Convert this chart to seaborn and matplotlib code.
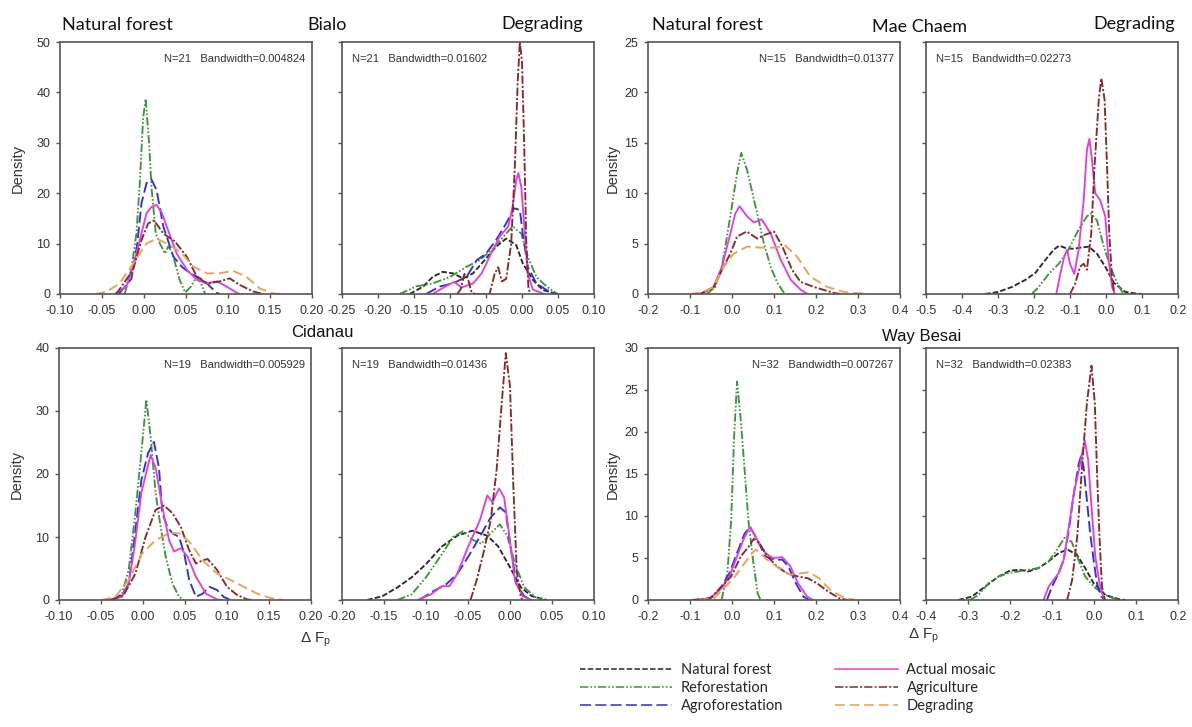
import matplotlib
matplotlib.use("Agg")
import numpy as np
import pandas as pd
import matplotlib.pyplot as plt
from matplotlib.lines import Line2D
from matplotlib.ticker import FormatStrFormatter
import seaborn as sns

# scenario styling
SCENARIOS = ["Natural forest", "Reforestation", "Agroforestation",
             "Actual mosaic", "Agriculture", "Degrading"]
COLORS = {
    "Natural forest": "#2a2a2a",
    "Reforestation": "#3c963c",
    "Agroforestation": "#3030d8",
    "Actual mosaic": "#e040e0",
    "Agriculture": "#8a2828",
    "Degrading": "#f0a050",
}
DASHES = {
    "Natural forest": (4, 1.6),
    "Reforestation": (6, 1.5, 1.2, 1.5, 1.2, 1.5),
    "Agroforestation": (8, 3),
    "Actual mosaic": "",
    "Agriculture": (6, 1.5, 1.5, 1.5),
    "Degrading": (7, 3.5),
}

# density curves: (delta Fp, density)
bialo_nat = {
    "Reforestation": [(-0.023, 0), (-0.015, 5), (-0.009, 12), (-0.005, 22), (-0.001, 35), (0.002, 38.7),
                      (0.006, 30), (0.009, 21), (0.014, 12), (0.019, 10), (0.025, 8), (0.029, 9.5),
                      (0.034, 8), (0.042, 3), (0.049, 0.3), (0.056, 1.5), (0.063, 3.5), (0.068, 2), (0.073, 0)],
    "Agroforestation": [(-0.03, 0), (-0.015, 3), (-0.008, 10), (-0.003, 18), (0.003, 22), (0.009, 22.7),
                        (0.015, 20.6), (0.023, 13.4), (0.035, 7.4), (0.045, 5.4), (0.055, 4.1), (0.067, 3.1),
                        (0.075, 2.1), (0.086, 0.3), (0.09, 0)],
    "Actual mosaic": [(-0.035, 0), (-0.021, 1.5), (-0.013, 5.4), (-0.005, 10.7), (0.003, 16), (0.009, 17.3),
                      (0.015, 17.7), (0.021, 16.2), (0.027, 13.4), (0.039, 8), (0.051, 4.8), (0.063, 2.8),
                      (0.075, 2.1), (0.087, 2.5), (0.098, 1.5), (0.11, 0.3), (0.114, 0)],
    "Agriculture": [(-0.033, 0), (-0.013, 4.8), (-0.003, 10.7), (0.005, 14), (0.012, 14.6), (0.023, 12),
                    (0.037, 10.4), (0.051, 7.4), (0.063, 3.4), (0.075, 2.1), (0.09, 2.5), (0.102, 3.1),
                    (0.114, 1.8), (0.13, 0.5), (0.142, 0)],
    "Degrading": [(-0.058, 0), (-0.044, 0.5), (-0.029, 2.1), (-0.013, 6), (0.003, 10), (0.015, 11),
                  (0.027, 10), (0.043, 8.4), (0.059, 5.4), (0.075, 4.1), (0.09, 4.1), (0.106, 4.6),
                  (0.122, 3.4), (0.138, 1.1), (0.154, 0.1), (0.168, 0)],
}
bialo_deg = {
    "Natural forest": [(-0.156, 0), (-0.137, 1.5), (-0.124, 3.4), (-0.11, 4.4), (-0.096, 4.1), (-0.082, 3.1),
                       (-0.068, 4.1), (-0.052, 6.7), (-0.036, 9.4), (-0.022, 11), (-0.008, 9.7), (0.001, 6.1),
                       (0.015, 2.8), (0.029, 0.8), (0.048, 0)],
    "Reforestation": [(-0.17, 0), (-0.147, 1.5), (-0.124, 2.1), (-0.1, 3.4), (-0.077, 5.4), (-0.059, 6.7),
                      (-0.04, 9), (-0.022, 12), (-0.013, 13.4), (-0.001, 12), (0.008, 7.4), (0.02, 3.4),
                      (0.034, 1.5), (0.048, 0.1), (0.052, 0)],
    "Agroforestation": [(-0.133, 0), (-0.114, 1.5), (-0.096, 2.1), (-0.077, 3.4), (-0.063, 6.7), (-0.05, 8),
                        (-0.036, 10.7), (-0.022, 14), (-0.011, 17), (-0.003, 16.7), (0.001, 12), (0.008, 5.4),
                        (0.02, 2.1), (0.034, 0.8), (0.048, 0)],
    "Actual mosaic": [(-0.124, 0), (-0.105, 1.6), (-0.094, 2.4), (-0.084, 1.3), (-0.068, 2.1), (-0.056, 4.1),
                      (-0.043, 8), (-0.031, 11.4), (-0.019, 13.4), (-0.013, 17.4), (-0.008, 22.6), (-0.005, 24),
                      (-0.001, 21.3), (0.004, 12), (0.008, 4), (0.015, 0.9), (0.029, 0.1), (0.031, 0)],
    "Agriculture": [(-0.09, 0), (-0.085, 1), (-0.08, 4), (-0.075, 3), (-0.07, 0.3), (-0.065, 0), (-0.045, 0),
                    (-0.038, 4), (-0.033, 5.3), (-0.028, 2.5), (-0.022, 3), (-0.015, 10), (-0.01, 25),
                    (-0.006, 42), (-0.003, 50), (0.0, 46), (0.003, 30), (0.006, 10), (0.009, 1), (0.012, 0)],
}
mae_nat = {
    "Reforestation": [(-0.06, 0), (-0.04, 0.7), (-0.024, 2.7), (-0.004, 7.7), (0.012, 12), (0.022, 14),
                      (0.036, 12.3), (0.056, 8.7), (0.076, 5), (0.092, 2.7), (0.108, 1.1), (0.124, 0.1), (0.13, 0)],
    "Actual mosaic": [(-0.076, 0), (-0.044, 0.7), (-0.024, 2.7), (-0.004, 6), (0.008, 8), (0.018, 8.7),
                      (0.036, 7.7), (0.052, 7.1), (0.071, 7.4), (0.092, 6), (0.116, 3.4), (0.14, 1.4),
                      (0.164, 0.4), (0.18, 0)],
    "Agriculture": [(-0.076, 0), (-0.044, 0.6), (-0.024, 2.4), (-0.004, 4), (0.012, 5.7), (0.035, 6.2),
                    (0.06, 5.5), (0.08, 5.9), (0.1, 6.2), (0.12, 4.7), (0.143, 2.4), (0.163, 1.2),
                    (0.195, 0.7), (0.219, 0.4), (0.243, 0.1), (0.259, 0)],
    "Degrading": [(-0.1, 0), (-0.068, 0.2), (-0.044, 0.7), (-0.02, 2.7), (0.004, 4), (0.036, 4.7),
                  (0.068, 4.6), (0.1, 4.6), (0.127, 4.8), (0.155, 3.7), (0.187, 1.7), (0.227, 0.7),
                  (0.267, 0.2), (0.307, 0.05), (0.33, 0)],
}
mae_deg = {
    "Natural forest": [(-0.336, 0), (-0.3, 0.2), (-0.261, 0.7), (-0.224, 1.4), (-0.196, 2.1), (-0.168, 3.4),
                       (-0.145, 4.4), (-0.13, 4.8), (-0.108, 4.5), (-0.09, 4.5), (-0.071, 4.6), (-0.048, 4.7),
                       (-0.025, 4), (-0.002, 2.7), (0.022, 1.1), (0.054, 0.2), (0.082, 0.05), (0.1, 0)],
    "Reforestation": [(-0.206, 0), (-0.187, 0.7), (-0.159, 2), (-0.131, 3), (-0.104, 4.4), (-0.076, 6.4),
                      (-0.053, 7.7), (-0.042, 8), (-0.025, 7.3), (-0.006, 4.7), (0.012, 2.7), (0.031, 1.1),
                      (0.045, 0.2), (0.054, 0)],
    "Actual mosaic": [(-0.138, 0), (-0.127, 2), (-0.116, 3.7), (-0.108, 4.4), (-0.1, 3), (-0.088, 2),
                      (-0.076, 4.4), (-0.062, 9.3), (-0.053, 14.3), (-0.046, 15.4), (-0.039, 13.3), (-0.03, 10),
                      (-0.016, 9.3), (-0.002, 7.7), (0.007, 3.4), (0.017, 0.7), (0.024, 0)],
    "Agriculture": [(-0.1, 0), (-0.086, 1), (-0.072, 2.7), (-0.062, 3.0), (-0.053, 2.4), (-0.041, 6),
                    (-0.032, 12.6), (-0.02, 19.3), (-0.013, 21.4), (-0.004, 19.3), (0.003, 12.6), (0.009, 6),
                    (0.017, 1.4), (0.024, 0)],
}
cidanau_nat = {
    "Reforestation": [(-0.035, 0), (-0.025, 1), (-0.017, 4.8), (-0.01, 12.7), (-0.003, 22), (0.004, 31.8),
                      (0.009, 26), (0.015, 17), (0.021, 11.6), (0.027, 6.9), (0.035, 2.6), (0.043, 0.5), (0.049, 0)],
    "Agroforestation": [(-0.038, 0), (-0.025, 0.8), (-0.017, 2.6), (-0.01, 10), (-0.002, 19), (0.006, 23.3),
                        (0.013, 25.1), (0.019, 21), (0.023, 13.8), (0.029, 11.6), (0.035, 10.6), (0.043, 10),
                        (0.049, 7.4), (0.055, 3.2), (0.063, 0.5), (0.071, 1), (0.079, 2.1), (0.088, 1.6),
                        (0.096, 0.5), (0.104, 0)],
    "Actual mosaic": [(-0.042, 0), (-0.025, 0.5), (-0.017, 2.6), (-0.01, 8.5), (-0.002, 17), (0.009, 23),
                      (0.015, 21), (0.023, 14.8), (0.031, 9.5), (0.037, 7.7), (0.045, 8.2), (0.053, 6.9),
                      (0.063, 3.7), (0.075, 1), (0.088, 0.1), (0.094, 0)],
    "Agriculture": [(-0.038, 0), (-0.023, 0.8), (-0.009, 4.2), (0.003, 10), (0.015, 14.3), (0.025, 15),
                    (0.035, 13.8), (0.045, 11.6), (0.055, 7.9), (0.063, 5.8), (0.071, 6.3), (0.077, 6.5),
                    (0.088, 4.8), (0.1, 2.1), (0.112, 0.8), (0.124, 0.1), (0.13, 0)],
    "Degrading": [(-0.05, 0), (-0.033, 0.5), (-0.017, 3.2), (-0.001, 7.4), (0.015, 9.5), (0.031, 10.6),
                  (0.043, 10.6), (0.055, 9.3), (0.071, 6.3), (0.088, 4.2), (0.104, 3.2), (0.12, 2.1),
                  (0.136, 1), (0.152, 0.3), (0.168, 0)],
}
cidanau_deg = {
    "Natural forest": [(-0.17, 0), (-0.152, 0.6), (-0.134, 2), (-0.117, 3.6), (-0.1, 5.7), (-0.081, 8.5),
                       (-0.063, 10.2), (-0.045, 11), (-0.027, 10.2), (-0.014, 8.5), (0.0, 5.2), (0.013, 2),
                       (0.026, 0.6), (0.044, 0)],
    "Reforestation": [(-0.134, 0), (-0.117, 0.9), (-0.1, 3.6), (-0.081, 7.3), (-0.068, 10), (-0.056, 10.9),
                      (-0.045, 9.6), (-0.034, 8.9), (-0.023, 10.6), (-0.012, 12), (-0.003, 10.1), (0.006, 5.7),
                      (0.017, 2), (0.031, 0.4), (0.04, 0)],
    "Agroforestation": [(-0.108, 0), (-0.094, 1.2), (-0.076, 2.5), (-0.063, 4.1), (-0.05, 6.8), (-0.036, 10),
                        (-0.023, 13.1), (-0.012, 14.7), (-0.005, 13.9), (0.002, 7.2), (0.008, 2.5), (0.017, 0.6),
                        (0.026, 0)],
    "Actual mosaic": [(-0.11, 0), (-0.094, 0.9), (-0.081, 2.2), (-0.072, 2.2), (-0.063, 4.1), (-0.05, 8.4),
                      (-0.036, 12.6), (-0.027, 16.6), (-0.021, 15.5), (-0.013, 17.7), (-0.007, 16.3), (0.0, 9.4),
                      (0.006, 3), (0.015, 0.6), (0.026, 0)],
    "Agriculture": [(-0.047, 0), (-0.04, 3), (-0.031, 7.8), (-0.023, 12.6), (-0.016, 20.6), (-0.01, 31),
                    (-0.005, 39.2), (0.0, 33.9), (0.004, 18), (0.008, 4.6), (0.013, 0.4), (0.015, 0)],
}
way_nat = {
    "Reforestation": [(-0.025, 0), (-0.011, 3.2), (-0.002, 9.5), (0.005, 19.4), (0.012, 26), (0.021, 21.4),
                      (0.03, 15.5), (0.039, 9.5), (0.05, 4.8), (0.061, 0.8), (0.068, 0)],
    "Agroforestation": [(-0.07, 0), (-0.043, 0.4), (-0.025, 1.6), (-0.006, 3.2), (0.012, 5.6), (0.03, 7.9),
                        (0.043, 8.7), (0.061, 7.1), (0.079, 5.2), (0.102, 4.8), (0.12, 4.8), (0.134, 4),
                        (0.152, 2), (0.17, 0.4), (0.184, 0)],
    "Actual mosaic": [(-0.088, 0), (-0.052, 0.2), (-0.025, 1.4), (-0.006, 2.8), (0.012, 5.2), (0.03, 7.5),
                      (0.043, 8.7), (0.061, 7.1), (0.079, 5.6), (0.097, 5), (0.12, 5.1), (0.139, 4),
                      (0.157, 2), (0.179, 0.4), (0.193, 0)],
    "Agriculture": [(-0.097, 0), (-0.052, 0.2), (-0.025, 1.6), (-0.002, 2.8), (0.021, 5.2), (0.039, 6.3),
                    (0.052, 7.3), (0.066, 6.7), (0.084, 5.2), (0.107, 4), (0.13, 3.2), (0.157, 2.8),
                    (0.18, 2.6), (0.202, 2), (0.229, 1), (0.256, 0.2), (0.275, 0)],
    "Degrading": [(-0.079, 0), (-0.043, 0.2), (-0.015, 1.6), (0.007, 2.8), (0.03, 4.4), (0.048, 5.6),
                  (0.057, 6), (0.084, 4.8), (0.111, 3.8), (0.139, 3), (0.166, 3.2), (0.184, 3.3),
                  (0.207, 2.6), (0.234, 1.2), (0.266, 0.3), (0.293, 0)],
}
way_deg = {
    "Natural forest": [(-0.323, 0), (-0.291, 0.4), (-0.259, 1.6), (-0.227, 2.8), (-0.2, 3.5), (-0.176, 3.6),
                       (-0.156, 3.4), (-0.132, 3.8), (-0.108, 4.6), (-0.084, 5.6), (-0.063, 6), (-0.041, 5.4),
                       (-0.021, 3.8), (-0.001, 2), (0.027, 0.6), (0.059, 0.1), (0.075, 0)],
    "Reforestation": [(-0.295, 0), (-0.275, 0.6), (-0.251, 2), (-0.227, 2.8), (-0.204, 3.2), (-0.18, 3.4),
                      (-0.156, 3.6), (-0.132, 3.8), (-0.108, 4.6), (-0.088, 6), (-0.069, 7.5), (-0.053, 6.9),
                      (-0.037, 4.8), (-0.021, 2.8), (-0.001, 1.6), (0.015, 1), (0.035, 0.4), (0.059, 0)],
    "Agroforestation": [(-0.112, 0), (-0.1, 1.6), (-0.084, 3.2), (-0.072, 4.8), (-0.06, 8.3), (-0.048, 12.7),
                        (-0.036, 16.3), (-0.031, 17.1), (-0.025, 15.9), (-0.017, 11.9), (-0.009, 7.9),
                        (-0.001, 4.8), (0.007, 2), (0.017, 0.4), (0.027, 0)],
    "Actual mosaic": [(-0.12, 0), (-0.108, 1.6), (-0.096, 2.4), (-0.084, 3.2), (-0.072, 4.8), (-0.06, 8.7),
                      (-0.048, 12.7), (-0.036, 15.5), (-0.028, 17.5), (-0.022, 19), (-0.014, 16.7),
                      (-0.006, 11.1), (0.003, 5.2), (0.013, 2), (0.023, 0.2), (0.027, 0)],
    "Agriculture": [(-0.064, 0), (-0.052, 2.4), (-0.04, 7.5), (-0.029, 15.5), (-0.017, 23.4), (-0.006, 27.9),
                    (0.002, 23.4), (0.007, 15.5), (0.013, 7.5), (0.019, 1.6), (0.026, 0)],
}

# panel text
bw_labels = ["N=21   Bandwidth=0.004824", "N=21   Bandwidth=0.01602",
             "N=15   Bandwidth=0.01377", "N=15   Bandwidth=0.02273",
             "N=19   Bandwidth=0.005929", "N=19   Bandwidth=0.01436",
             "N=32   Bandwidth=0.007267", "N=32   Bandwidth=0.02383"]

W, H = 1192, 727

def to_frame(curves):
    rows = []
    for scen, pts in curves.items():
        for x, y in pts:
            rows.append((scen, x, y))
    return pd.DataFrame(rows, columns=["scenario", "dfp", "density"])

def px_rect(left, top, width=252, height=252):
    return [left / W, 1 - (top + height) / H, width / W, height / H]

sns.set_theme(style="white")
plt.rcParams["font.family"] = ["Liberation Sans", "DejaVu Sans"]
plt.rcParams["axes.unicode_minus"] = False
plt.rcParams["lines.scale_dashes"] = False

fig = plt.figure(figsize=(W / 100, H / 100), dpi=100)

# (curves, left px, top px, xlim, xstep, fmt, ymax, ystep, is_left, ylabel x)
panels = [
    (bialo_nat, 60, 42, (-0.10, 0.20), 0.05, "%.2f", 50, 10, True, -0.14),
    (bialo_deg, 342, 42, (-0.25, 0.10), 0.05, "%.2f", 50, 10, False, None),
    (mae_nat, 648, 42, (-0.2, 0.4), 0.1, "%.1f", 25, 5, True, -0.112),
    (mae_deg, 926, 42, (-0.5, 0.2), 0.1, "%.1f", 25, 5, False, None),
    (cidanau_nat, 59, 348, (-0.10, 0.20), 0.05, "%.2f", 40, 10, True, -0.14),
    (cidanau_deg, 342, 348, (-0.20, 0.10), 0.05, "%.2f", 40, 10, False, None),
    (way_nat, 648, 348, (-0.2, 0.4), 0.1, "%.1f", 30, 5, True, -0.112),
    (way_deg, 926, 348, (-0.4, 0.2), 0.1, "%.1f", 30, 5, False, None),
]

for i, (curves, left, top, xlim, xstep, fmt, ymax, ystep, is_left, ylx) in enumerate(panels):
    ax = fig.add_axes(px_rect(left, top))
    df = to_frame(curves)
    order = [s for s in SCENARIOS if s in curves]
    sns.lineplot(data=df, x="dfp", y="density", hue="scenario", style="scenario",
                 hue_order=order, style_order=order, palette=COLORS, dashes=DASHES,
                 estimator=None, sort=False, lw=1.35, legend=False, ax=ax)
    ax.set_xlim(*xlim)
    ax.set_ylim(0, ymax)
    xt = np.round(np.arange(xlim[0], xlim[1] + xstep / 2, xstep), 2) + 0.0
    ax.set_xticks(xt)
    ax.xaxis.set_major_formatter(FormatStrFormatter(fmt))
    ax.set_yticks(np.arange(0, ymax + 1, ystep))
    ax.set_xlabel("")
    if is_left:
        ax.set_ylabel("Density", fontsize=10.5, color="#333333")
        ax.yaxis.set_label_coords(ylx, 0.5)
        ax.text(0.975, 0.933, bw_labels[i], transform=ax.transAxes, ha="right", va="center",
                fontsize=8, color="#333333")
    else:
        ax.set_ylabel("")
        ax.set_yticklabels([])
        ax.text(0.04, 0.933, bw_labels[i], transform=ax.transAxes, ha="left", va="center",
                fontsize=8, color="#333333")
    for sp in ax.spines.values():
        sp.set_visible(True)
        sp.set_color("#555555")
        sp.set_linewidth(1.2)
    ax.tick_params(bottom=True, left=True, direction="out", length=3, width=1, color="#555555",
                   labelsize=9, labelcolor="#333333", pad=4)
    ax.tick_params(axis="x", pad=5)
    ax.grid(False)

def ftext(x, y, s, **kw):
    fig.text(x / W, 1 - y / H, s, **kw)

head = dict(fontsize=13, family=["Lato", "DejaVu Sans"], color="#111111", va="baseline")
ftext(62, 30, "Natural forest", ha="left", **head)
ftext(327, 30, "Bialo", ha="center", **head)
ftext(583, 29, "Degrading", ha="right", **head)
ftext(652, 30, "Natural forest", ha="left", **head)
ftext(919, 32, "Mae Chaem", ha="center", **head)
ftext(1175, 29, "Degrading", ha="right", **head)
ftext(322, 337, "Cidanau", ha="center", va="baseline", fontsize=12, color="#111111")
ftext(922, 341, "Way Besai", ha="center", va="baseline", fontsize=12, color="#111111")
ftext(316, 640, r"Δ F$_\mathregular{p}$", ha="center", va="center", fontsize=11, color="#333333")
ftext(924, 636, r"Δ F$_\mathregular{p}$", ha="center", va="center", fontsize=11, color="#333333")

# legend in two columns
def handle(name):
    return Line2D([0], [0], color=COLORS[name], lw=1.4,
                  linestyle="-" if DASHES[name] == "" else (0, DASHES[name]), alpha=0.8)

leg_kw = dict(loc="upper left", frameon=False, borderpad=0, borderaxespad=0,
              labelspacing=0.28, handletextpad=0.6, prop={"family": ["Lato", "DejaVu Sans"], "size": 10.5})
left_names = ["Natural forest", "Reforestation", "Agroforestation"]
right_names = ["Actual mosaic", "Agriculture", "Degrading"]
fig.legend([handle(n) for n in left_names], left_names, bbox_to_anchor=(580 / W, 1 - 663 / H),
           handlelength=6.3, **leg_kw)
fig.legend([handle(n) for n in right_names], right_names, bbox_to_anchor=(835 / W, 1 - 663 / H),
           handlelength=4.3, **leg_kw)

fig.savefig("out.png", dpi=100, facecolor="white")
